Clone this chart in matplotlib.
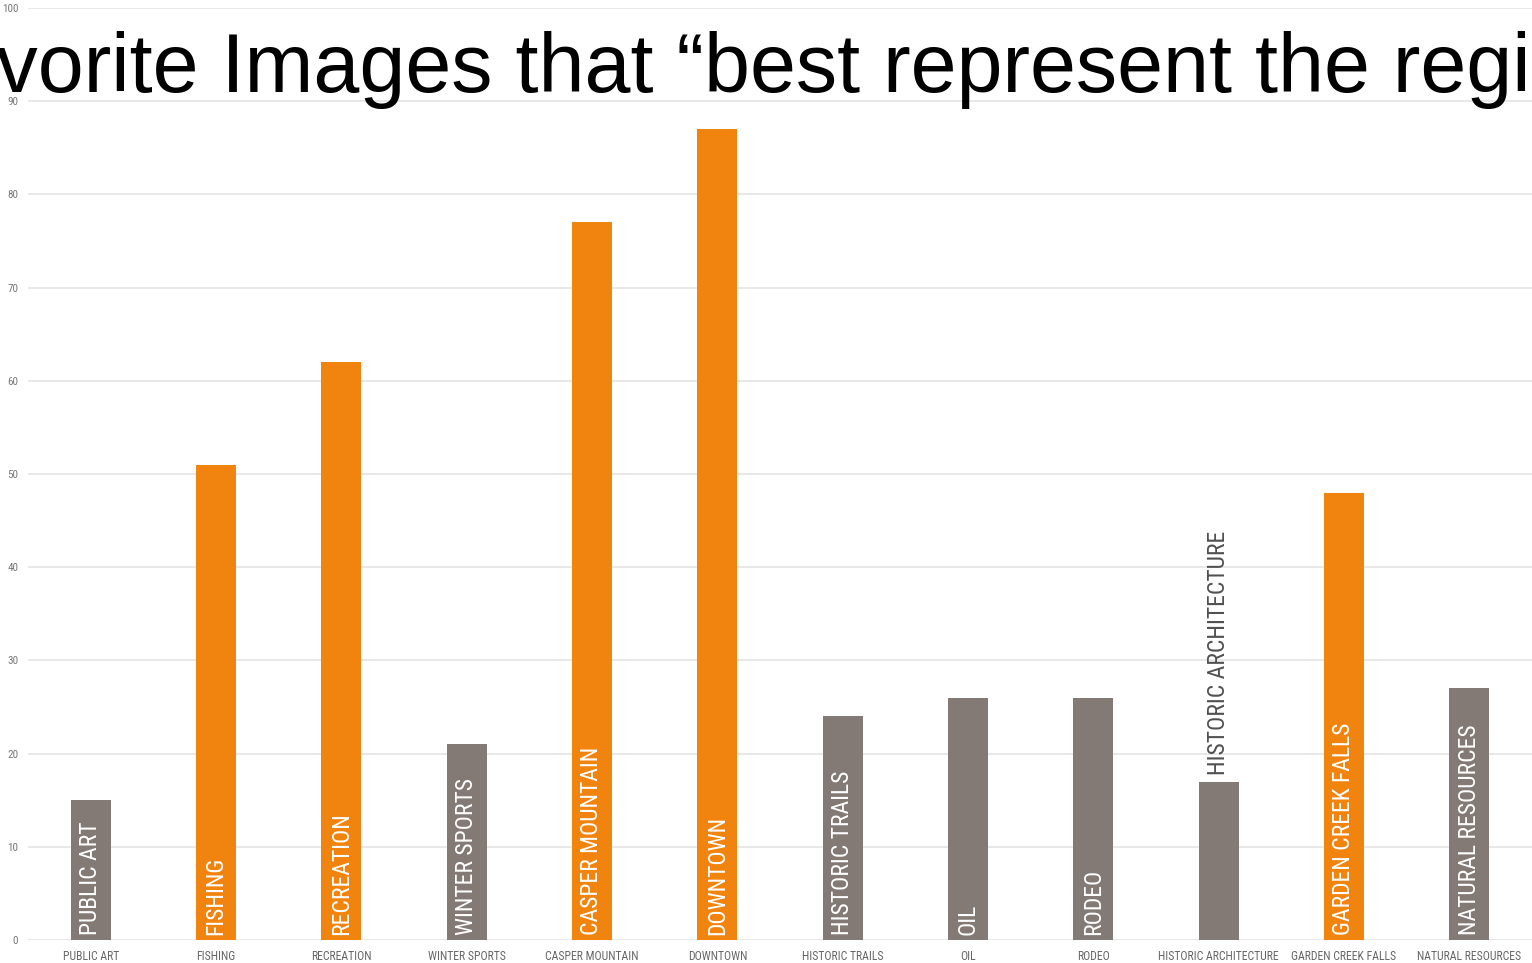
import matplotlib.pyplot as plt
from matplotlib import font_manager
import numpy as np

# --- Survey counts: favourite images of the region ---
categories = [
    "PUBLIC ART", "FISHING", "RECREATION", "WINTER SPORTS",
    "CASPER MOUNTAIN", "DOWNTOWN", "HISTORIC TRAILS", "OIL",
    "RODEO", "HISTORIC ARCHITECTURE", "GARDEN CREEK FALLS", "NATURAL RESOURCES",
]
votes = [15, 51, 62, 21, 77, 87, 24, 26, 26, 17, 48, 27]
highlight = [False, True, True, False, True, True, False, False, False, False, True, False]

title = "Favorite Images that \u201cbest represent the region\u201d"

ORANGE = "#f0840f"
GREY = "#837a75"

# condensed face for the labels, whichever one is around
installed = {f.name for f in font_manager.fontManager.ttflist}
cond = next((f for f in ["Roboto Condensed", "Archivo Narrow", "PT Sans Narrow",
                         "Liberation Sans Narrow"] if f in installed), "Liberation Sans")
narrow = [cond, "DejaVu Sans"]

fig = plt.figure(figsize=(15.32, 9.63), dpi=100)
W, H = 1532, 963
ax = fig.add_axes([28 / W, 23 / H, 1504 / W, 932 / H])

x = np.arange(len(categories))
colors = [ORANGE if h else GREY for h in highlight]
ax.bar(x, votes, width=0.32, color=colors, zorder=2)

# labels written inside each bar (one sits above its short bar)
for xi, v, name in zip(x, votes, categories):
    if v < 20 and len(name) > 12:
        ax.text(xi, v + 0.7, name, rotation=90, ha="center", va="bottom",
                color="#505050", fontsize=17, family=narrow, zorder=3)
    else:
        ax.text(xi, 0.5, name, rotation=90, ha="center", va="bottom",
                color="white", fontsize=17, family=narrow, zorder=3)

ax.set_xlim(-0.5, len(categories) - 0.5)
ax.set_ylim(0, 100)
ax.set_yticks(np.arange(0, 101, 10))
ax.set_xticks(x)
ax.set_xticklabels(categories, fontsize=8.5, family=narrow, color="#666666")
for lbl in ax.get_yticklabels():
    lbl.set_family(narrow)
ax.tick_params(axis="y", length=0, pad=7, labelsize=8, labelcolor="#777777")
ax.tick_params(axis="x", length=0, pad=7)

ax.grid(axis="y", color="#e4e4e4", linewidth=1.2, zorder=0)
for s in ax.spines.values():
    s.set_visible(False)

# large heading running off both edges of the slide
fig.text(-100 / W, 1 - 92 / H, title, ha="left", va="baseline",
         fontsize=59.5, family=["Liberation Sans", "DejaVu Sans"], color="black")

fig.savefig("out.png", dpi=100)
